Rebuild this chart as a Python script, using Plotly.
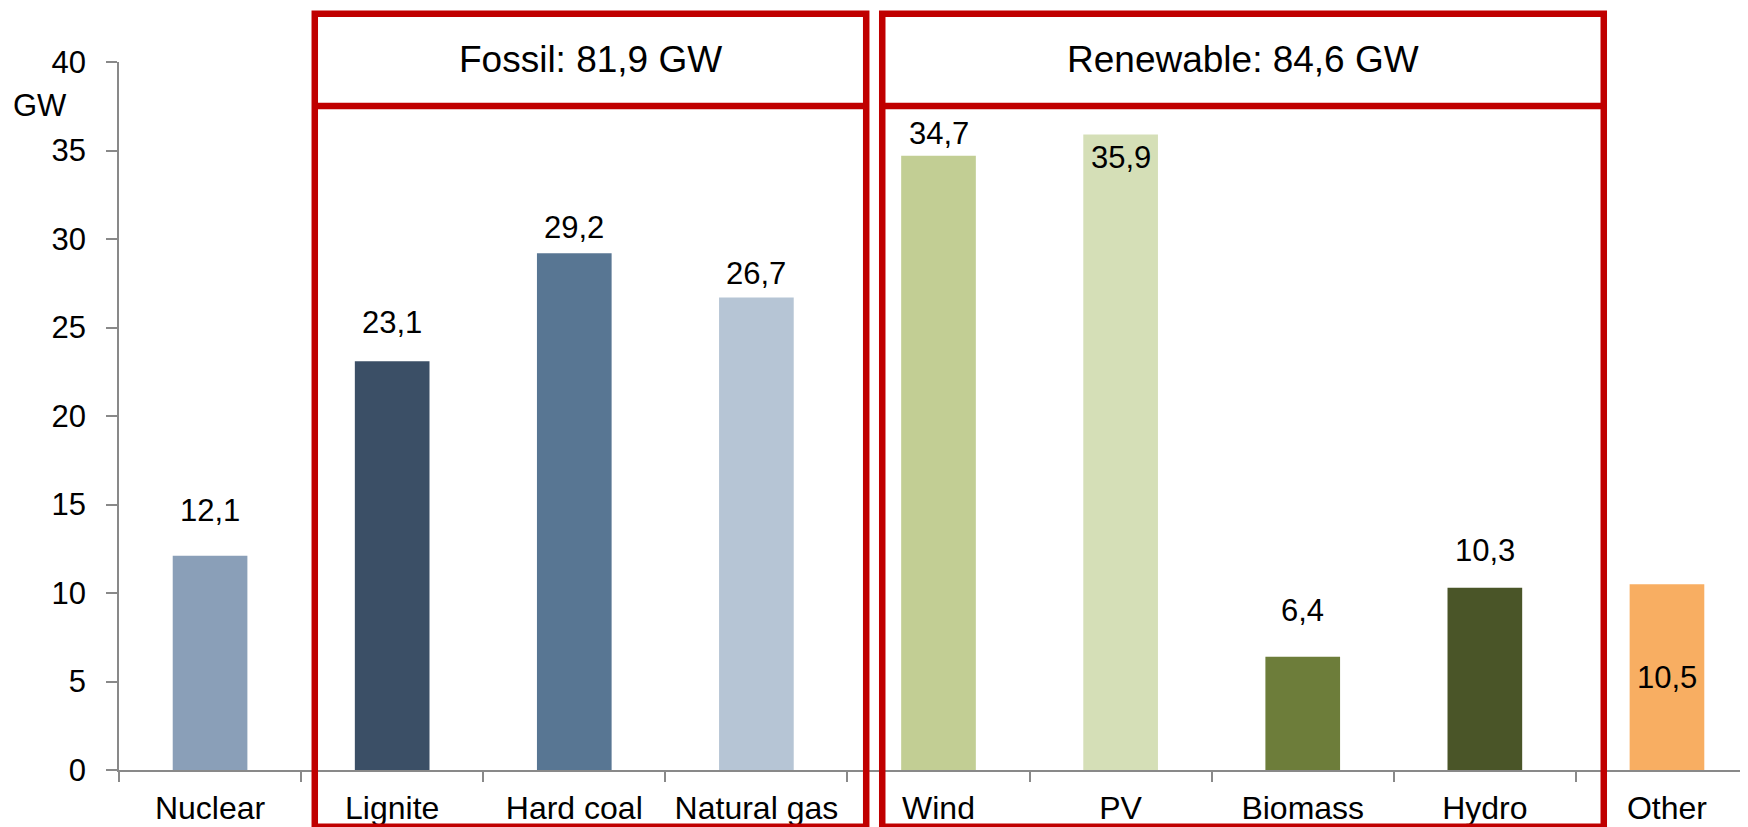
import plotly.graph_objects as go

categories = ["Nuclear", "Lignite", "Hard coal", "Natural gas", "Wind", "PV", "Biomass", "Hydro", "Other"]
values = [12.1, 23.1, 29.2, 26.7, 34.7, 35.9, 6.4, 10.3, 10.5]
value_labels = ["12,1", "23,1", "29,2", "26,7", "34,7", "35,9", "6,4", "10,3", "10,5"]
colors = ["#8A9FB8", "#3B4F66", "#587693", "#B6C5D5", "#C2CE94", "#D5DFB7", "#6D7D3A", "#4A5528", "#F8AE62"]
label_shift_px = [45, 39, 26, 24, 22, -23, 46, 37, -93]
group_titles = ["Fossil: 81,9 GW", "Renewable: 84,6 GW"]
y_ticks = [0, 5, 10, 15, 20, 25, 30, 35, 40]
unit_label = "GW"

FONT = "Arial, Liberation Sans, sans-serif"
RED = "#C00000"
GREY = "#898989"

fig = go.Figure()
fig.add_trace(go.Bar(
    x=categories, y=values, marker=dict(color=colors, line=dict(width=0)),
    width=0.41, hoverinfo="skip", showlegend=False,
))

annotations = []
for cat, v, lab, sh in zip(categories, values, value_labels, label_shift_px):
    annotations.append(dict(
        x=cat, y=v, xref="x", yref="y", text=lab, showarrow=False,
        xanchor="center", yanchor="middle", yshift=sh,
        font=dict(family=FONT, size=31, color="#000000"),
    ))

# group boxes (in category units on x, paper on y)
boxes = [(0.575, 3.603), (3.691, 7.653)]
y_top, y_div, y_bot = 1.068, 0.938, -0.08
shapes = []
for (x0, x1), title in zip(boxes, group_titles):
    shapes.append(dict(type="rect", xref="x", yref="paper", x0=x0, x1=x1, y0=y_bot, y1=y_top,
                       line=dict(color=RED, width=6.5), fillcolor="rgba(0,0,0,0)", layer="above"))
    shapes.append(dict(type="line", xref="x", yref="paper", x0=x0, x1=x1, y0=y_div, y1=y_div,
                       line=dict(color=RED, width=6.5), layer="above"))
    annotations.append(dict(
        x=(x0 + x1) / 2, y=(y_top + y_div) / 2, xref="x", yref="paper", text=title,
        showarrow=False, xanchor="center", yanchor="middle",
        font=dict(family=FONT, size=37, color="#000000"),
    ))

annotations.append(dict(
    x=-0.0485, y=0.9386, xref="paper", yref="paper", text=unit_label, showarrow=False,
    xanchor="center", yanchor="middle", font=dict(family=FONT, size=31, color="#000000"),
))

# the page body has an 8px margin, so the figure is 8px smaller and shifted accordingly
fig.update_layout(
    width=1740, height=819, autosize=False,
    margin=dict(l=111, r=0, t=54, b=57, pad=0),
    paper_bgcolor="white", plot_bgcolor="white",
    font=dict(family=FONT, size=31, color="#000000"),
    shapes=shapes, annotations=annotations, bargap=0.59,
    xaxis=dict(
        type="category", range=[-0.5, 8.445], tickson="boundaries",
        ticks="outside", ticklen=10, tickwidth=1.5, tickcolor=GREY,
        showline=True, linecolor=GREY, linewidth=1.5, showgrid=False, zeroline=False,
        tickfont=dict(family=FONT, size=32, color="#000000"), ticklabelstandoff=9,
        fixedrange=True,
    ),
    yaxis=dict(
        range=[0, 40], tickvals=y_ticks, ticktext=[str(t) for t in y_ticks],
        ticks="outside", ticklen=11, tickwidth=1.5, tickcolor=GREY,
        showline=True, linecolor=GREY, linewidth=1.5, showgrid=False, zeroline=False,
        tickfont=dict(family=FONT, size=31, color="#000000"), ticklabelstandoff=14,
        fixedrange=True,
    ),
)

fig.write_html("out.html", config={"displayModeBar": False})
